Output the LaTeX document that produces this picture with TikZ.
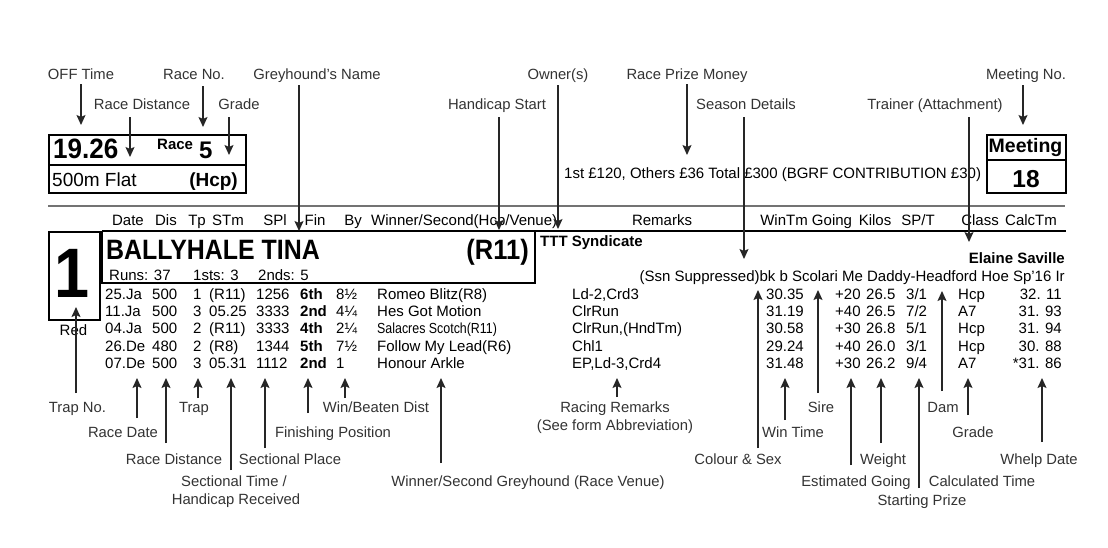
\documentclass[tikz,border=0pt]{standalone}
\usepackage{fontspec}
\setmainfont{Liberation Sans}
\usepackage{graphicx}
\usetikzlibrary{arrows.meta}
\tikzset{
  lbl/.style={font=\fontsize{14.8}{17}\selectfont, text=black!80, inner sep=0pt, anchor=base},
  dat/.style={font=\fontsize{15}{17}\selectfont, inner sep=0pt, anchor=base west},
  datb/.style={dat, font=\fontsize{15}{17}\selectfont\bfseries},
  hdr/.style={font=\fontsize{15}{17}\selectfont, inner sep=0pt, anchor=base},
  arr/.style={draw=black!85, line width=1.3pt, -{Stealth[length=10pt,width=9pt,inset=2pt]}},
  box/.style={draw=black, line width=1.8pt},
}
\begin{document}
\begin{tikzpicture}[x=1pt,y=-1pt]
\useasboundingbox (0,0) rectangle (1108,547);
\fill[white] (0,0) rectangle (1108,547);

% ---------- top labels ----------
\node[lbl] (offtime) at (81,79) {OFF Time};
\node[lbl] (raceno) at (194,79) {Race No.};
\node[lbl] (gname) at (317,79) {Greyhound’s Name};
\node[lbl] (owner) at (558,79) {Owner(s)};
\node[lbl] (prizelbl) at (687,79) {Race Prize Money};
\node[lbl] (meetno) at (1026,79) {Meeting No.};
\node[lbl] (racedist) at (142,109.5) {Race Distance};
\node[lbl] (gradetop) at (239,109.5) {Grade};
\node[lbl] (hcpstart) at (497,109.5) {Handicap Start};
\node[lbl] (season) at (746,109.5) {Season Details};
\node[lbl] (trainer) at (935,109.5) {Trainer (Attachment)};

% ---------- race box ----------
\node[box, minimum width=197pt, minimum height=58pt, inner sep=0pt, anchor=north west] (racebox) at (48,134) {};
\draw[box] (48,165) -- (245,165);
\node[inner sep=0pt, anchor=base west, font=\fontsize{28}{30}\selectfont\bfseries] (offt) at (53,158) {\scalebox{0.93}[1]{19.26}};
\node[inner sep=0pt, anchor=base west, font=\fontsize{15}{17}\selectfont\bfseries] (racew) at (157,149) {Race};
\node[inner sep=0pt, anchor=base west, font=\fontsize{24}{26}\selectfont\bfseries] (raceno5) at (199,158) {5};
\node[inner sep=0pt, anchor=base west, font=\fontsize{19}{21}\selectfont] (dist) at (52,186) {500m Flat};
\node[inner sep=0pt, anchor=base east, font=\fontsize{19}{21}\selectfont\bfseries] (hcp) at (238,186) {(Hcp)};

% ---------- meeting box ----------
\node[box, minimum width=79pt, minimum height=58pt, inner sep=0pt, anchor=north west] (meetbox) at (986,134) {};
\draw[box] (986,160) -- (1065,160);
\node[inner sep=0pt, anchor=base, font=\fontsize{19.5}{21}\selectfont\bfseries] (meeting) at (1025.5,152) {Meeting};
\node[inner sep=0pt, anchor=base, font=\fontsize{24.5}{26}\selectfont\bfseries] (meet18) at (1026,187) {18};

% ---------- prize ----------
\node[dat] (prize) at (564,178) {1st £120, Others £36 Total £300 (BGRF CONTRIBUTION £30)};

% ---------- rules ----------
\draw[draw=black!55, line width=2pt] (48,206) coordinate (gl) -- (1065,206) coordinate (gr);
\draw[box] (102,231) coordinate (bl) -- (1066,231) coordinate (br);

% ---------- header ----------
\node[hdr] (hdate) at (128,225) {Date};
\node[hdr] (hdis) at (166,225) {Dis};
\node[hdr] (htp) at (197,225) {Tp};
\node[hdr] (hstm) at (228,225) {STm};
\node[hdr] (hspl) at (275,225) {SPl};
\node[hdr] (hfin) at (315,225) {Fin};
\node[hdr] (hby) at (353,225) {By};
\node[hdr, anchor=base west] (hwin) at (371,225) {Winner/Second(Hcp/Venue)};
\node[hdr] (hrem) at (662,225) {Remarks};
\node[hdr] (hwt) at (784,225) {WinTm};
\node[hdr] (hgo) at (832,225) {Going};
\node[hdr] (hki) at (875,225) {Kilos};
\node[hdr] (hsp) at (918,225) {SP/T};
\node[hdr] (hcl) at (980,225) {Class};
\node[hdr] (hct) at (1031,225) {CalcTm};

% ---------- trap box ----------
\node[box, minimum width=51pt, minimum height=88pt, inner sep=0pt, anchor=north west] (trapbox) at (48,231) {};
\node[inner sep=0pt, anchor=base, font=\fontsize{70}{72}\selectfont\bfseries] (trap1) at (72.5,297) {\scalebox{0.9}[1]{1}};
\node[hdr] (red) at (73.5,335) {Red};

% ---------- name box ----------
\draw[box] (102,231) -- (102,283) -- (535,283) -- (535,231);
\node[inner sep=0pt, anchor=base west, font=\fontsize{28}{30}\selectfont\bfseries] (name) at (106,259) {\scalebox{0.89}[1]{BALLYHALE TINA}};
\node[inner sep=0pt, anchor=base east, font=\fontsize{28}{30}\selectfont\bfseries] (r11) at (529,259) {\scalebox{0.91}[1]{(R11)}};
\node[dat] (runs) at (109,280) {Runs: 37};
\node[dat] (firsts) at (193,280) {1sts: 3};
\node[dat] (seconds) at (258,280) {2nds: 5};

\node[datb] (owners) at (540,246) {TTT Syndicate};
\node[datb, anchor=base east] (trainername) at (1065,263) {Elaine Saville};
\node[dat, anchor=base east] (ssn) at (1065,281) {(Ssn Suppressed)bk b Scolari Me Daddy-Headford Hoe Sp'16 Ir};

% ---------- data rows ----------
\foreach \t [count=\n] in {25.Ja,11.Ja,04.Ja,26.De,07.De}
  \node[dat] (date\n) at (105,{282.3+17.2*\n}) {\t};
\foreach \t [count=\n] in {500,500,500,480,500}
  \node[dat] (dis\n) at (152,{282.3+17.2*\n}) {\t};
\foreach \t [count=\n] in {1,3,2,2,3}
  \node[dat] (tp\n) at (193,{282.3+17.2*\n}) {\t};
\foreach \t [count=\n] in {(R11),05.25,(R11),(R8),05.31}
  \node[dat] (stm\n) at (209,{282.3+17.2*\n}) {\t};
\foreach \t [count=\n] in {1256,3333,3333,1344,1112}
  \node[dat] (spl\n) at (256,{282.3+17.2*\n}) {\t};
\foreach \t [count=\n] in {6th,2nd,4th,5th,2nd}
  \node[datb] (fin\n) at (300,{282.3+17.2*\n}) {\t};
\foreach \t [count=\n] in {8½,4¼,2¼,7½,1}
  \node[dat] (by\n) at (336,{282.3+17.2*\n}) {\t};
\foreach \t [count=\n] in {Romeo Blitz(R8),Hes Got Motion,{\scalebox{0.85}[1]{\fontsize{14.6}{16}\selectfont Salacres Scotch(R11)}},Follow My Lead(R6),Honour Arkle}
  \node[dat] (win\n) at (377,{282.3+17.2*\n}) {\t};
\foreach \t [count=\n] in {{Ld-2,Crd3},ClrRun,{ClrRun,(HndTm)},Chl1,{EP,Ld-3,Crd4}}
  \node[dat] (rem\n) at (572,{282.3+17.2*\n}) {\t};
\foreach \t [count=\n] in {30.35,31.19,30.58,29.24,31.48}
  \node[dat] (wt\n) at (766,{282.3+17.2*\n}) {\t};
\foreach \t [count=\n] in {+20,+40,+30,+40,+30}
  \node[dat] (go\n) at (835,{282.3+17.2*\n}) {\t};
\foreach \t [count=\n] in {26.5,26.5,26.8,26.0,26.2}
  \node[dat] (ki\n) at (866,{282.3+17.2*\n}) {\t};
\foreach \t [count=\n] in {3/1,7/2,5/1,3/1,9/4}
  \node[dat] (spt\n) at (906,{282.3+17.2*\n}) {\t};
\foreach \t [count=\n] in {Hcp,A7,Hcp,Hcp,A7}
  \node[dat] (cl\n) at (958,{282.3+17.2*\n}) {\t};
\foreach \t [count=\n] in {32. 11,31. 93,31. 94,30. 88,*31. 86}
  \node[dat, anchor=base east] (ct\n) at (1062,{282.3+17.2*\n}) {\t};

% ---------- top connectors ----------
\coordinate (a1s) at (81,84);   \coordinate (a1e) at (81,125);
\coordinate (a2s) at (130,117); \coordinate (a2e) at (130,157);
\coordinate (a3s) at (203,86);  \coordinate (a3e) at (203,127);
\coordinate (a4s) at (229,117); \coordinate (a4e) at (229,155);
\coordinate (a5s) at (299,85);  \coordinate (a5e) at (299,231);
\coordinate (a6s) at (499,117); \coordinate (a6e) at (499,230);
\coordinate (a7s) at (558,85);  \coordinate (a7e) at (558,229);
\coordinate (a8s) at (687,84);  \coordinate (a8e) at (687,155);
\coordinate (a9s) at (744,117); \coordinate (a9e) at (744,259);
\coordinate (a10s) at (969,117); \coordinate (a10e) at (969,242);
\coordinate (a11s) at (1023,85); \coordinate (a11e) at (1023,125);
\foreach \i in {1,...,11} \draw[arr] (a\i s) -- (a\i e);

% ---------- bottom labels ----------
\node[lbl] (ltrapno) at (77.5,412.5) {Trap No.};
\node[lbl] (lracedate) at (123,437.5) {Race Date};
\node[lbl] (lracedist) at (174,464) {Race Distance};
\node[lbl] (ltrap) at (194,412.5) {Trap};
\node[lbl] (lsecttime) at (234,486.5) {Sectional Time /};
\node[lbl] (lhcprec) at (236,504) {Handicap Received};
\node[lbl] (lsectplace) at (290,464) {Sectional Place};
\node[lbl] (lfinpos) at (333,437.5) {Finishing Position};
\node[lbl] (lwinbeat) at (376,412.5) {Win/Beaten Dist};
\node[lbl] (lwinner) at (528,486.5) {Winner/Second Greyhound (Race Venue)};
\node[lbl] (lracrem) at (615,412.5) {Racing Remarks};
\node[lbl] (lseeform) at (615,430.5) {(See form Abbreviation)};
\node[lbl] (lcolour) at (738,464) {Colour \& Sex};
\node[lbl] (lwintime) at (793,437.5) {Win Time};
\node[lbl] (lsire) at (821,412.5) {Sire};
\node[lbl] (lestgo) at (856,486.5) {Estimated Going};
\node[lbl] (lweight) at (883,464) {Weight};
\node[lbl] (lstartp) at (922,505) {Starting Prize};
\node[lbl] (ldam) at (943,412.5) {Dam};
\node[lbl] (lcalc) at (982,486.5) {Calculated Time};
\node[lbl] (lgrade) at (973,437.5) {Grade};
\node[lbl] (lwhelp) at (1039,464) {Whelp Date};

% ---------- bottom connectors ----------
\coordinate (b1s) at (76,393);   \coordinate (b1e) at (76,307);
\coordinate (b2s) at (137,418);  \coordinate (b2e) at (137,378);
\coordinate (b3s) at (166,443);  \coordinate (b3e) at (166,378);
\coordinate (b4s) at (198,398);  \coordinate (b4e) at (198,378);
\coordinate (b5s) at (231,470);  \coordinate (b5e) at (231,378);
\coordinate (b6s) at (265,448);  \coordinate (b6e) at (265,378);
\coordinate (b7s) at (308,413);  \coordinate (b7e) at (308,378);
\coordinate (b8s) at (345,398);  \coordinate (b8e) at (345,378);
\coordinate (b9s) at (441,463);  \coordinate (b9e) at (441,378);
\coordinate (b10s) at (617,397); \coordinate (b10e) at (617,378);
\coordinate (b11s) at (758,448); \coordinate (b11e) at (758,290);
\coordinate (b12s) at (785,420); \coordinate (b12e) at (785,378);
\coordinate (b13s) at (818,393); \coordinate (b13e) at (818,290);
\coordinate (b14s) at (851,465); \coordinate (b14e) at (851,378);
\coordinate (b15s) at (881,443); \coordinate (b15e) at (881,378);
\coordinate (b16s) at (919,488); \coordinate (b16e) at (919,378);
\coordinate (b17s) at (942,391); \coordinate (b17e) at (942,291);
\coordinate (b18s) at (968,415); \coordinate (b18e) at (968,378);
\coordinate (b19s) at (1042,442); \coordinate (b19e) at (1042,378);
\foreach \i in {1,...,19} \draw[arr] (b\i s) -- (b\i e);
\end{tikzpicture}
\end{document}
